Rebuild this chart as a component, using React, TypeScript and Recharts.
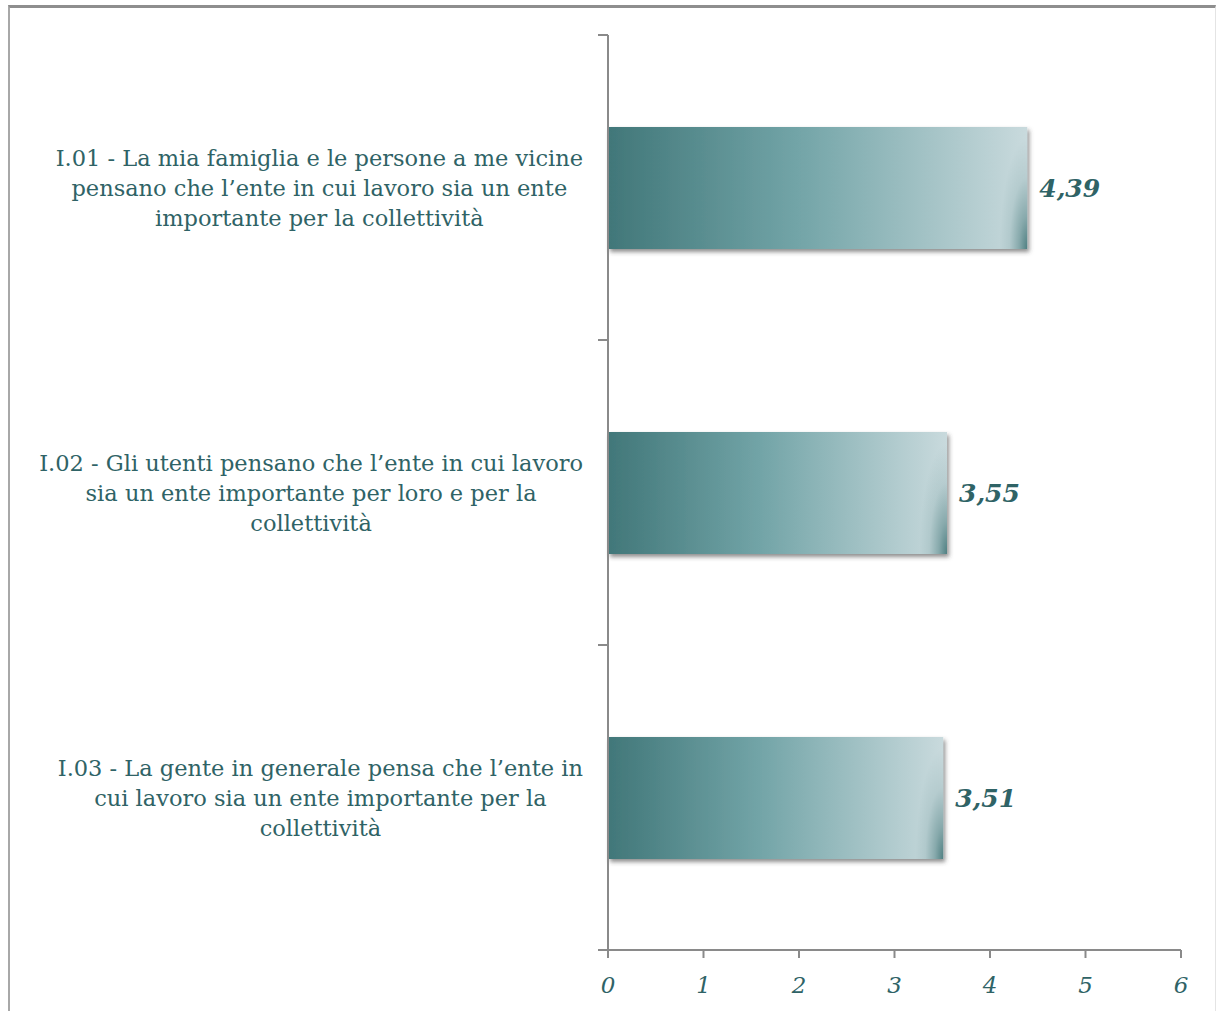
import React from 'react';
import { BarChart, Bar, XAxis, YAxis, LabelList } from 'recharts';

const categories = [
  ['I.01 - La mia famiglia e le persone a me vicine', 'pensano che l’ente in cui lavoro sia un ente', 'importante per la collettività'],
  ['I.02 - Gli utenti pensano che l’ente in cui lavoro', 'sia un ente importante per loro e per la', 'collettività'],
  ['I.03 - La gente in generale pensa che l’ente in', 'cui lavoro sia un ente importante per la', 'collettività'],
];
const values = [4.39, 3.55, 3.51];
const xTicks = [0, 1, 2, 3, 4, 5, 6];
// band boundaries on the category axis (between the three rows)
const bandTicks = [0, 1, 2, 3];

const data = categories.map((lines, i) => ({ name: lines.join('|'), value: values[i], row: i + 0.5 }));

const TEAL = '#2f6366';
const FONT = '"DejaVu Serif", "Liberation Serif", serif';

const CatTick = (props: any) => {
  const { x, y, payload } = props;
  const lines: string[] = String(payload.value).split('|');
  const right = x - 7;
  return (
    <foreignObject x={right - 590} y={y - 45} width={590} height={96}>
      <div style={{ display: 'flex', justifyContent: 'flex-end', width: '100%' }}>
        <div
          style={{
            textAlign: 'center',
            fontFamily: FONT,
            fontSize: '22.5px',
            lineHeight: '30px',
            color: TEAL,
            whiteSpace: 'nowrap',
          }}
        >
          {lines.map((l, i) => (
            <div key={i}>{l}</div>
          ))}
        </div>
      </div>
    </foreignObject>
  );
};

const EmptyTick = () => <g />;

const BarShape = (props: any) => {
  const { x, y, width, height, index } = props;
  if (!width || width <= 0) return null;
  const id = `corner-${index}`;
  const cx = x + width;
  const cy = y + height;
  return (
    <g>
      <defs>
        <radialGradient
          id={id}
          gradientUnits="userSpaceOnUse"
          cx={cx}
          cy={cy}
          r={110}
          gradientTransform={`translate(${cx} ${cy}) scale(0.25 1) translate(${-cx} ${-cy})`}
        >
          <stop offset="0%" stopColor="#3a7072" stopOpacity={0.85} />
          <stop offset="30%" stopColor="#3a7072" stopOpacity={0.45} />
          <stop offset="65%" stopColor="#3a7072" stopOpacity={0.12} />
          <stop offset="100%" stopColor="#3a7072" stopOpacity={0} />
        </radialGradient>
      </defs>
      <g filter="url(#barShadow)">
        <rect x={x} y={y} width={width} height={height} fill="url(#barGrad)" />
      </g>
      <rect x={x} y={y} width={width} height={height} fill={`url(#${id})`} />
    </g>
  );
};

export default function App() {
  return (
    <div style={{ position: 'absolute', left: 0, top: 0, width: 1218, height: 1011, background: '#fff' }}>
      <div
        style={{
          position: 'absolute',
          left: 8,
          top: 5,
          width: 1205,
          height: 1010,
          borderTop: '3px solid #8e8e8e',
          borderLeft: '2px solid #a8a8a8',
          borderRight: '1px solid #e4e4e4',
        }}
      />
      <div style={{ position: 'absolute', left: 0, top: 0 }}>
        <BarChart
          width={1218}
          height={1011}
          data={data}
          layout="vertical"
          margin={{ top: 35, right: 37, bottom: 31, left: 8 }}
          barCategoryGap="20%"
        >
          <defs>
            <linearGradient id="barGrad" x1="0" y1="0" x2="1" y2="0">
              <stop offset="0%" stopColor="#417779" />
              <stop offset="45%" stopColor="#72a4a7" />
              <stop offset="100%" stopColor="#c9dadd" />
            </linearGradient>
            <filter id="barShadow" x="-5%" y="-10%" width="115%" height="130%">
              <feDropShadow dx="2" dy="3" stdDeviation="2" floodColor="#444" floodOpacity="0.6" />
            </filter>
          </defs>
          <XAxis
            type="number"
            domain={[0, 6]}
            ticks={xTicks}
            interval={0}
            stroke="#8a8a8a"
            strokeWidth={2}
            tickSize={8}
            tickMargin={19}
            tick={{ fill: TEAL, fontFamily: FONT, fontStyle: 'italic', fontSize: 23 }}
          />
          <YAxis
            yAxisId="band"
            type="number"
            dataKey="row"
            domain={[0, 3]}
            allowDataOverflow
            ticks={bandTicks}
            interval={0}
            width={10}
            tickSize={10}
            tick={<EmptyTick />}
            stroke="#8a8a8a"
            strokeWidth={2}
          />
          <YAxis
            yAxisId="cat"
            type="category"
            dataKey="name"
            width={590}
            axisLine={false}
            tickLine={false}
            tick={<CatTick />}
          />
          <Bar
            yAxisId="cat"
            dataKey="value"
            barSize={122}
            shape={<BarShape />}
            isAnimationActive={false}
          >
            <LabelList
              dataKey="value"
              position="right"
              offset={12}
              formatter={(v: any) => String(v).replace('.', ',')}
              style={{ fill: TEAL, fontFamily: FONT, fontStyle: 'italic', fontWeight: 'bold', fontSize: 25 }}
            />
          </Bar>
        </BarChart>
      </div>
    </div>
  );
}
